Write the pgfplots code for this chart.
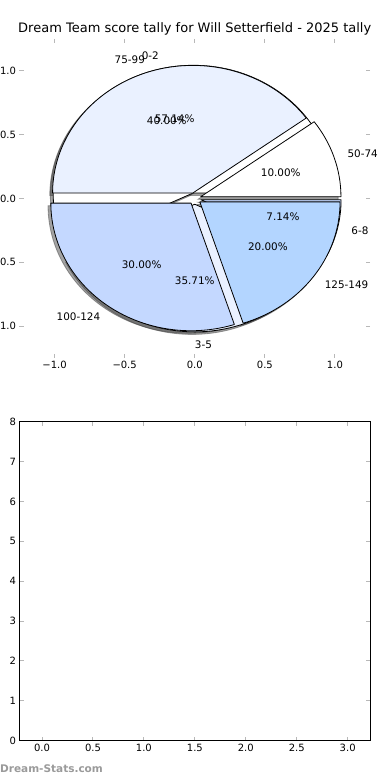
\documentclass[border=0pt]{standalone}
\usepackage{pgfplots}
\pgfplotsset{compat=1.18}
\usepackage{fontspec}
\setmainfont{DejaVu Sans}
\definecolor{cA}{HTML}{EAF1FF}
\definecolor{cB}{HTML}{C4D8FF}
\definecolor{cC}{HTML}{B3D5FF}
\definecolor{tickgray}{HTML}{B8B8B8}
\definecolor{wmgray}{HTML}{9A9A9A}

% pie data: value/label/colour
\def\pieOneTotal{14}
\def\pieOne{8/0-2/white, 5/3-5/cA, 1/6-8/cB}
\def\pieTwoTotal{10}
\def\pieTwo{1/50-74/white, 4/75-99/cA, 3/100-124/cB, 2/125-149/cC}

\def\explode{0.045}
\def\RX{140.2pt}
\def\RY{127.6pt}

% #1 total, #2 list, #3 mode: 0 shadow, 1 wedge, 2 text
\newcommand\piepart[3]{%
  \gdef\cum{0}%
  \foreach \v/\lab/\col in #2 {%
    \pgfmathsetmacro\aa{360*\cum/#1}%
    \pgfmathsetmacro\bb{360*(\cum+\v)/#1}%
    \pgfmathsetmacro\mm{(\aa+\bb)/2}%
    \pgfmathsetmacro\cx{\explode*cos(\mm)}%
    \pgfmathsetmacro\cy{\explode*sin(\mm)}%
    \ifnum#3=0
      \pgfmathsetmacro\cx{\cx-0.02}%
      \pgfmathsetmacro\cy{\cy-0.02}%
    \fi
    \pgfmathsetmacro\sx{\cx+cos(\aa)}%
    \pgfmathsetmacro\sy{\cy+sin(\aa)}%
    \ifnum#3=0
      \filldraw[fill=black!72, draw=black!72, line width=0.8pt, opacity=0.5]
        (axis cs:\cx,\cy) -- (axis cs:\sx,\sy)
        arc[start angle=\aa, end angle=\bb, x radius=\RX, y radius=\RY] -- cycle;
    \fi
    \ifnum#3=1
      \filldraw[fill=\col, draw=black, line width=0.8pt, line join=round]
        (axis cs:\cx,\cy) -- (axis cs:\sx,\sy)
        arc[start angle=\aa, end angle=\bb, x radius=\RX, y radius=\RY] -- cycle;
    \fi
    \ifnum#3=2
      \pgfmathsetmacro\lx{\cx+1.1*cos(\mm)}%
      \pgfmathsetmacro\ly{\cy+1.1*sin(\mm)}%
      \pgfmathsetmacro\px{\cx+0.6*cos(\mm)}%
      \pgfmathsetmacro\py{\cy+0.6*sin(\mm)}%
      \pgfmathsetmacro\pct{100*\v/#1}%
      \ifdim\lx pt>-0.001pt
        \node[anchor=west, inner sep=0pt, font=\fontsize{10.4}{12}\selectfont] at (axis cs:\lx,\ly) {\lab};
      \else
        \node[anchor=east, inner sep=0pt, font=\fontsize{10.4}{12}\selectfont] at (axis cs:\lx,\ly) {\lab};
      \fi
      \node[inner sep=0pt, font=\fontsize{10.4}{12}\selectfont] at (axis cs:\px,\py)
        {\pgfmathprintnumber[fixed, fixed zerofill, precision=2, assume math mode=true]{\pct}\%};
    \fi
    \pgfmathsetmacro\newcum{\cum+\v}%
    \xdef\cum{\newcum}%
  }%
}

\pgfplotsset{
  every tick/.style={tickgray, line width=1pt},
  major tick length=4pt,
  tick label style={font=\fontsize{10}{12}\selectfont},
  /pgf/number format/assume math mode=true,
}

\begin{document}
\begin{tikzpicture}
\useasboundingbox (0,0) rectangle (390pt,780pt);

% ---------- top axis: two overlaid pies ----------
\begin{axis}[
  at={(19.5pt,422pt)}, anchor=south west,
  width=350.5pt, height=319pt, scale only axis,
  xmin=-1.25, xmax=1.25, ymin=-1.25, ymax=1.25,
  axis line style={draw=none},
  xtick={-1,-0.5,0,0.5,1}, ytick={-1,-0.5,0,0.5,1},
  xticklabels={−1.0,−0.5,0.0,0.5,1.0},
  yticklabels={−1.0,−0.5,0.0,0.5,1.0},
  clip=false,
]
\addplot[draw=none] coordinates {(0,0)};
\pgfplotsextra{%
  \piepart{\pieOneTotal}{\pieOne}{0}%
  \piepart{\pieTwoTotal}{\pieTwo}{0}%
  \piepart{\pieOneTotal}{\pieOne}{1}%
  \piepart{\pieTwoTotal}{\pieTwo}{1}%
  \piepart{\pieOneTotal}{\pieOne}{2}%
  \piepart{\pieTwoTotal}{\pieTwo}{2}%
}
\end{axis}
\node[font=\fontsize{13}{15}\selectfont] at (194.75pt,750.7pt)
  {Dream Team score tally for Will Setterfield - 2025 tally};

% ---------- bottom axis: empty ----------
\begin{axis}[
  at={(19.5pt,39.3pt)}, anchor=south west,
  width=350.5pt, height=319pt, scale only axis,
  xmin=-0.221, xmax=3.219, ymin=0, ymax=8,
  axis line style={black, line width=0.9pt},
  xtick={0,0.5,1,1.5,2,2.5,3},
  xticklabels={0.0,0.5,1.0,1.5,2.0,2.5,3.0},
  ytick={0,1,2,3,4,5,6,7,8},
  yticklabels={0,1,2,3,4,5,6,7,8},
]
\addplot[draw=none] coordinates {(0,0)};
\end{axis}
\node[anchor=west, inner sep=0pt, text=wmgray, font=\bfseries\fontsize{10.5}{12}\selectfont]
  at (0pt,11pt) {Dream-Stats.com};
\end{tikzpicture}
\end{document}
